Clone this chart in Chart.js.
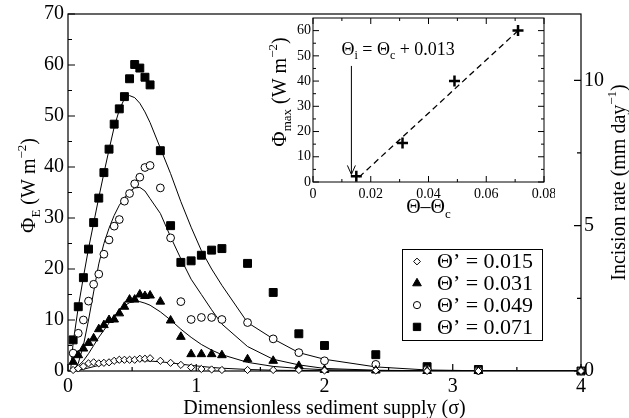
<!DOCTYPE html>
<html>
<head>
<meta charset="utf-8">
<script src="https://cdn.jsdelivr.net/npm/chart.js@4.4.1/dist/chart.umd.min.js"></script>
<style>
  html, body { margin: 0; padding: 0; background: #fff; }
  #wrap { position: relative; width: 629px; height: 418px; }
  #main { position: absolute; left: 0; top: 0; }
  #inset { position: absolute; left: 255px; top: 0; }
</style>
</head>
<body>
<div id="wrap">
  <canvas id="main" width="629" height="418"></canvas>
  <canvas id="inset" width="300" height="235"></canvas>
</div>
<script>
// measured points, dimensionless sediment supply
const sigma = [0.04, 0.08, 0.12, 0.16, 0.2, 0.24, 0.28, 0.32, 0.36, 0.4, 0.44, 0.48, 0.52, 0.56, 0.6, 0.64,
  0.72, 0.8, 0.88, 0.96, 1.04, 1.12, 1.2, 1.4, 1.6, 1.8, 2.0, 2.4, 2.8, 3.2, 4.0];
const phi015 = [0.2, 0.5, 0.9, 1.5, 1.7, 1.5, 1.6, 1.7, 2.0, 2.2, 2.2, 2.2, 2.2, 2.4, 2.4, 2.5,
  2.0, 1.6, 1.2, 0.7, 0.4, 0.3, 0.2, 0.2, 0.2, 0.2, 0.1, 0.1, 0, 0, 0];
const phi031 = [1.8, 3.1, 4.4, 5.5, 6.4, 8.2, 9.0, 10.0, 10.1, 11.3, 12.6, 14.0, 14.0, 15.0, 14.7, 14.8,
  13.6, 9.9, 6.7, 3.3, 3.3, 3.3, 3.1, 2.3, 2.0, 1.0, 0.2, 0.1, 0, 0, 0];
const phi049 = [3.5, 7.4, 10.0, 13.7, 17.0, 19.0, 22.9, 25.7, 28.4, 29.7, 33.3, 34.8, 36.7, 38.0, 39.9, 40.3,
  35.9, 26.1, 13.6, 10.1, 10.5, 10.5, 10.1, 9.5, 6.3, 3.6, 2.0, 1.3, 0.3, 0.1, 0];
const phi071 = [6.1, 12.6, 18.3, 23.9, 29.1, 33.9, 38.9, 43.5, 48.4, 51.4, 53.8, 57.3, 60.1, 59.4, 57.6, 56.1,
  43.2, 28.5, 21.3, 21.6, 22.7, 23.7, 24.0, 21.1, 15.4, 7.3, 5.0, 3.2, 0.85, 0.3, 0];

// model curves
const fitSigma = [0.02, 0.04, 0.08, 0.12, 0.16, 0.2, 0.24, 0.28, 0.32, 0.36, 0.4, 0.44, 0.48, 0.52, 0.56, 0.6, 0.64,
  0.72, 0.8, 0.88, 0.96, 1.04, 1.12, 1.2, 1.4, 1.6, 1.8, 2.0, 2.4, 2.8, 3.2, 4.0];
const fit015 = [0, 0, 0.15, 0.35, 0.6, 0.85, 1.1, 1.35, 1.55, 1.7, 1.85, 1.95, 2.0, 2.05, 2.05, 2.0, 1.95,
  1.8, 1.6, 1.35, 1.1, 0.9, 0.7, 0.55, 0.3, 0.15, 0.1, 0.05, 0, 0, 0, 0];
const fit031 = [0, 0.2, 1.0, 2.0, 3.4, 5.0, 6.6, 8.0, 9.4, 10.7, 11.9, 12.8, 13.4, 13.7, 13.6, 13.3, 12.9,
  11.6, 10.0, 8.2, 6.6, 5.2, 4.1, 3.2, 1.7, 0.9, 0.5, 0.25, 0.1, 0, 0, 0];
const fit049 = [0, 0, 1.5, 5.0, 10.0, 15.5, 21.0, 25.0, 28.0, 30.5, 32.5, 34.0, 35.2, 35.9, 36.0, 35.3, 33.8,
  30.9, 26.3, 22.0, 18.0, 15.0, 12.0, 9.2, 4.8, 2.3, 1.2, 0.5, 0.15, 0.05, 0, 0];
const fit071 = [0, 5.5, 12.5, 18.4, 24.0, 29.0, 34.0, 38.8, 43.4, 47.8, 51.2, 53.4, 54.0, 53.6, 52.5, 50.8, 48.7,
  43.7, 38.7, 33.2, 28.2, 23.6, 20.0, 16.8, 9.5, 6.3, 3.6, 2.3, 0.8, 0.2, 0.05, 0];

const seriesLabels = ['Θ’ = 0.015', 'Θ’ = 0.031', 'Θ’ = 0.049', 'Θ’ = 0.071'];

// main axes ticks
const xMajor = [0, 1, 2, 3, 4];
const xMinor = [0.5, 1.5, 2.5, 3.5];
const yMajor = [0, 10, 20, 30, 40, 50, 60, 70];
const yMinor = [5, 15, 25, 35, 45, 55, 65];
const rateMajor = [0, 5, 10];
const rateMinor = [2.5, 7.5];
const rateMax = 12.28;

// inset
const thetaExcess = [0.015, 0.031, 0.049, 0.071];
const phiMax = [2.3, 15.5, 40, 60];
const fitTheta = [0.016, 0.0715];
const fitPhiMax = [2.0, 60.5];
const arrowTheta = 0.0133;
const arrowFrom = 46;
const arrowTo = 3;
const insetXMajor = [0, 0.02, 0.04, 0.06, 0.08];
const insetXMinor = [0.01, 0.03, 0.05, 0.07];
const insetYMajor = [0, 10, 20, 30, 40, 50, 60];
const insetYMinor = [5, 15, 25, 35, 45, 55];

const SERIF = '"Liberation Serif", "Times New Roman", serif';
const font = (s) => s + 'px ' + SERIF;

function pts(xs, ys) {
  return xs.map((x, i) => ({ x: x, y: ys[i] }));
}

// draw text made of pieces [text, size, dy], centred or left aligned
function richText(ctx, x, y, parts, rot, align) {
  ctx.save();
  ctx.translate(x, y);
  ctx.rotate(rot || 0);
  ctx.textBaseline = 'alphabetic';
  ctx.textAlign = 'left';
  ctx.fillStyle = '#000';
  let total = 0;
  parts.forEach(p => { ctx.font = font(p[1]); total += ctx.measureText(p[0]).width; });
  let cx = align === 'left' ? 0 : -total / 2;
  parts.forEach(p => {
    ctx.font = font(p[1]);
    ctx.fillText(p[0], cx, p[2]);
    cx += ctx.measureText(p[0]).width;
  });
  ctx.restore();
}

function marker(ctx, style, x, y, r, fill) {
  ctx.save();
  ctx.fillStyle = fill;
  ctx.strokeStyle = '#000';
  ctx.lineWidth = 1;
  ctx.beginPath();
  if (style === 'rectRot') {
    ctx.moveTo(x, y - r); ctx.lineTo(x + r, y); ctx.lineTo(x, y + r); ctx.lineTo(x - r, y);
  } else if (style === 'triangle') {
    ctx.moveTo(x, y - r);
    ctx.lineTo(x + r * 0.866, y + r * 0.5);
    ctx.lineTo(x - r * 0.866, y + r * 0.5);
  } else if (style === 'circle') {
    ctx.arc(x, y, r, 0, Math.PI * 2);
  } else {
    const s = r * Math.SQRT1_2;
    ctx.rect(x - s, y - s, 2 * s, 2 * s);
  }
  ctx.closePath();
  ctx.fill();
  ctx.stroke();
  ctx.restore();
}

const markerLook = [
  { style: 'rectRot', r: 3.6, fill: '#fff', legendR: 3.4 },
  { style: 'triangle', r: 5, fill: '#000', legendR: 5 },
  { style: 'circle', r: 3.9, fill: '#fff', legendR: 3.6 },
  { style: 'rect', r: 5.6, fill: '#000', legendR: 5.2 }
];

const measured = [phi015, phi031, phi049, phi071];
const fitted = [fit015, fit031, fit049, fit071];

const datasets = [];
measured.forEach((ys, i) => {
  datasets.push({
    label: seriesLabels[i],
    data: pts(sigma, ys),
    showLine: false,
    pointStyle: markerLook[i].style,
    pointRadius: markerLook[i].r,
    pointBackgroundColor: markerLook[i].fill,
    pointBorderColor: '#000',
    pointBorderWidth: 1,
    clip: false,
    order: 0
  });
});
fitted.forEach((ys, i) => {
  datasets.push({
    label: 'fit ' + seriesLabels[i],
    data: pts(fitSigma, ys),
    showLine: true,
    borderColor: '#000',
    borderWidth: 1,
    pointRadius: 0,
    fill: false,
    order: 1
  });
});

const tickFont = { family: SERIF, size: 20 };

const mainDecor = {
  id: 'mainDecor',
  beforeDatasetsDraw(chart) {
    const { ctx, chartArea: a, scales } = chart;
    ctx.save();
    ctx.strokeStyle = '#000';
    ctx.lineWidth = 1.2;
    ctx.strokeRect(a.left, a.top, a.right - a.left, a.bottom - a.top);
    ctx.beginPath();
    xMajor.forEach(v => { const p = scales.x.getPixelForValue(v); ctx.moveTo(p, a.bottom); ctx.lineTo(p, a.bottom - 7); });
    xMinor.forEach(v => { const p = scales.x.getPixelForValue(v); ctx.moveTo(p, a.bottom); ctx.lineTo(p, a.bottom - 4); });
    yMajor.forEach(v => { const p = scales.y.getPixelForValue(v); ctx.moveTo(a.left, p); ctx.lineTo(a.left + 7, p); });
    yMinor.forEach(v => { const p = scales.y.getPixelForValue(v); ctx.moveTo(a.left, p); ctx.lineTo(a.left + 4, p); });
    rateMajor.forEach(v => { const p = scales.y2.getPixelForValue(v); ctx.moveTo(a.right, p); ctx.lineTo(a.right - 7, p); });
    rateMinor.forEach(v => { const p = scales.y2.getPixelForValue(v); ctx.moveTo(a.right, p); ctx.lineTo(a.right - 4, p); });
    ctx.stroke();
    ctx.restore();
  },
  afterDraw(chart) {
    const { ctx, chartArea: a } = chart;
    const midY = (a.top + a.bottom) / 2;
    richText(ctx, 35, midY - 7, [['Φ', 21, 0], ['E', 13, 5], [' (W m', 20, 0], ['−2', 13, -9], [')', 20, 0]], -Math.PI / 2);
    richText(ctx, 625, midY - 10, [['Incision rate (mm day', 20, 0], ['−1', 13, -9], [')', 20, 0]], -Math.PI / 2);
    richText(ctx, (a.left + a.right) / 2, 414, [['Dimensionless sediment supply (σ)', 20, 0]], 0);

    // legend box
    const bx = 402, by = 249, bw = 140, bh = 91;
    ctx.save();
    ctx.fillStyle = '#fff';
    ctx.fillRect(bx, by, bw, bh);
    ctx.strokeStyle = '#000';
    ctx.lineWidth = 1;
    ctx.strokeRect(bx + 0.5, by + 0.5, bw, bh);
    ctx.restore();
    seriesLabels.forEach((lab, i) => {
      const yy = by + 12.5 + i * 21.8;
      marker(ctx, markerLook[i].style, bx + 15, yy, markerLook[i].legendR, markerLook[i].fill);
      ctx.save();
      ctx.font = font(22);
      ctx.fillStyle = '#000';
      ctx.textBaseline = 'middle';
      ctx.fillText(lab, bx + 35, yy + 1);
      ctx.restore();
    });
  }
};

new Chart(document.getElementById('main'), {
  type: 'scatter',
  data: { datasets: datasets },
  options: {
    responsive: false,
    animation: false,
    layout: { padding: { top: 14, left: 0, right: 0, bottom: 0 } },
    plugins: { legend: { display: false }, tooltip: { enabled: false } },
    scales: {
      x: {
        type: 'linear', min: 0, max: 4,
        grid: { display: false, drawTicks: false },
        border: { display: false },
        ticks: { font: tickFont, color: '#000', padding: 4, maxRotation: 0 },
        afterBuildTicks: s => { s.ticks = xMajor.map(v => ({ value: v })); },
        afterFit: s => { s.height = 47; s.paddingLeft = 0; s.paddingRight = 0; }
      },
      y: {
        type: 'linear', position: 'left', min: 0, max: 70,
        grid: { display: false, drawTicks: false },
        border: { display: false },
        ticks: { font: tickFont, color: '#000', padding: 4 },
        afterBuildTicks: s => { s.ticks = yMajor.map(v => ({ value: v })); },
        afterFit: s => { s.width = 68; s.paddingTop = 0; s.paddingBottom = 0; }
      },
      y2: {
        type: 'linear', position: 'right', min: 0, max: rateMax,
        grid: { display: false, drawTicks: false },
        border: { display: false },
        ticks: { font: tickFont, color: '#000', padding: 3 },
        afterBuildTicks: s => { s.ticks = rateMajor.map(v => ({ value: v })); },
        afterFit: s => { s.width = 48; s.paddingTop = 0; s.paddingBottom = 0; }
      }
    }
  },
  plugins: [mainDecor]
});

// ---- inset ----
const insetDecor = {
  id: 'insetDecor',
  beforeDatasetsDraw(chart) {
    const { ctx, chartArea: a, scales } = chart;
    ctx.save();
    ctx.strokeStyle = '#000';
    ctx.lineWidth = 1;
    ctx.strokeRect(a.left, a.top, a.right - a.left, a.bottom - a.top);
    ctx.beginPath();
    insetXMajor.forEach(v => {
      const p = scales.x.getPixelForValue(v);
      ctx.moveTo(p, a.bottom); ctx.lineTo(p, a.bottom - 6);
      ctx.moveTo(p, a.top); ctx.lineTo(p, a.top + 6);
    });
    insetXMinor.forEach(v => {
      const p = scales.x.getPixelForValue(v);
      ctx.moveTo(p, a.bottom); ctx.lineTo(p, a.bottom - 3);
      ctx.moveTo(p, a.top); ctx.lineTo(p, a.top + 3);
    });
    insetYMajor.forEach(v => {
      const p = scales.y.getPixelForValue(v);
      ctx.moveTo(a.left, p); ctx.lineTo(a.left + 6, p);
      ctx.moveTo(a.right, p); ctx.lineTo(a.right - 6, p);
    });
    insetYMinor.forEach(v => {
      const p = scales.y.getPixelForValue(v);
      ctx.moveTo(a.left, p); ctx.lineTo(a.left + 3, p);
      ctx.moveTo(a.right, p); ctx.lineTo(a.right - 3, p);
    });
    ctx.stroke();

    // arrow to the threshold
    const ax = scales.x.getPixelForValue(arrowTheta);
    const ay0 = scales.y.getPixelForValue(arrowFrom);
    const ay1 = scales.y.getPixelForValue(arrowTo);
    ctx.beginPath();
    ctx.moveTo(ax, ay0); ctx.lineTo(ax, ay1);
    ctx.moveTo(ax - 4, ay1 - 9); ctx.lineTo(ax, ay1); ctx.lineTo(ax + 4, ay1 - 9);
    ctx.stroke();
    ctx.restore();
  },
  afterDraw(chart) {
    const { ctx, chartArea: a, scales } = chart;
    richText(ctx, 31, (a.top + a.bottom) / 2 - 8,
      [['Φ', 21, 0], ['max', 13, 5], [' (W m', 20, 0], ['−2', 13, -9], [')', 20, 0]], -Math.PI / 2);
    richText(ctx, (a.left + a.right) / 2, 213, [['Θ–Θ', 20, 0], ['c', 13, 5]], 0);
    richText(ctx, scales.x.getPixelForValue(arrowTheta) - 10, 55,
      [['Θ', 18, 0], ['i', 12, 4], [' = Θ', 18, 0], ['c', 12, 4], [' + 0.013', 18, 0]], 0, 'left');
  }
};

const insetTickFont = { family: SERIF, size: 14 };

new Chart(document.getElementById('inset'), {
  type: 'scatter',
  data: {
    datasets: [
      {
        label: 'peak power',
        data: pts(thetaExcess, phiMax),
        showLine: false,
        pointStyle: 'cross',
        pointRadius: 5.5,
        pointBorderWidth: 2.5,
        pointBorderColor: '#000',
        clip: false
      },
      {
        label: 'fit',
        data: pts(fitTheta, fitPhiMax),
        showLine: true,
        borderColor: '#000',
        borderWidth: 1.3,
        borderDash: [6, 4],
        pointRadius: 0
      }
    ]
  },
  options: {
    responsive: false,
    animation: false,
    layout: { padding: { top: 18, left: 0, right: 11, bottom: 0 } },
    plugins: { legend: { display: false }, tooltip: { enabled: false } },
    scales: {
      x: {
        type: 'linear', min: 0, max: 0.08,
        grid: { display: false, drawTicks: false },
        border: { display: false },
        ticks: { font: insetTickFont, color: '#000', padding: 4, maxRotation: 0 },
        afterBuildTicks: s => { s.ticks = insetXMajor.map(v => ({ value: v })); },
        afterFit: s => { s.height = 53; s.paddingLeft = 0; s.paddingRight = 0; }
      },
      y: {
        type: 'linear', min: 0, max: 65,
        grid: { display: false, drawTicks: false },
        border: { display: false },
        ticks: { font: insetTickFont, color: '#000', padding: 2 },
        afterBuildTicks: s => { s.ticks = insetYMajor.map(v => ({ value: v })); },
        afterFit: s => { s.width = 58; s.paddingTop = 0; s.paddingBottom = 0; }
      }
    }
  },
  plugins: [insetDecor]
});
</script>
</body>
</html>
